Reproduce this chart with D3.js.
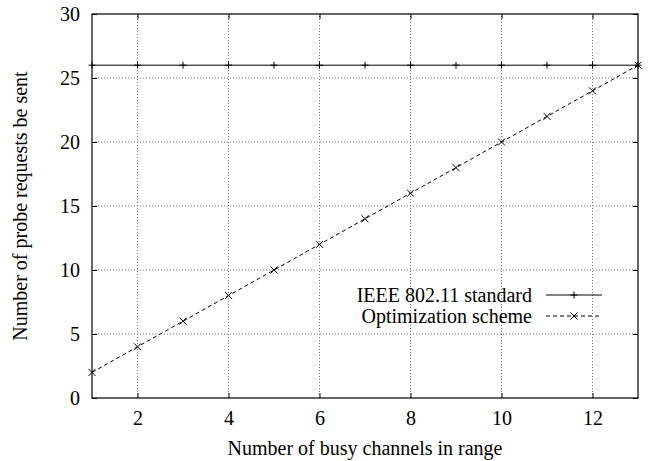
<!DOCTYPE html>
<html>
<head>
<meta charset="utf-8">
<script src="https://cdn.jsdelivr.net/npm/d3@7"></script>
<style>
  body { margin: 0; background: #fff; }
  text { font-family: "Liberation Serif", "Times New Roman", serif; fill: #000; }
</style>
</head>
<body>
<div id="chart"></div>
<script>
// Data
const channels = [1, 2, 3, 4, 5, 6, 7, 8, 9, 10, 11, 12, 13];
const standardProbes = [26, 26, 26, 26, 26, 26, 26, 26, 26, 26, 26, 26, 26];
const optimizedProbes = [2, 4, 6, 8, 10, 12, 14, 16, 18, 20, 22, 24, 26];
const xTicks = [2, 4, 6, 8, 10, 12];
const yTicks = [0, 5, 10, 15, 20, 25, 30];
const seriesNames = ["IEEE 802.11 standard", "Optimization scheme"];

const width = 648, height = 461;
const margin = { top: 14, right: 10, bottom: 63, left: 92 };
const fontSize = "20px";

const svg = d3.select("#chart")
  .append("svg")
  .attr("width", width)
  .attr("height", height);

const x = d3.scaleLinear()
  .domain([1, 13])
  .range([margin.left, width - margin.right]);

const y = d3.scaleLinear()
  .domain([0, 30])
  .range([height - margin.bottom, margin.top]);

// grid
svg.append("g")
  .selectAll("line")
  .data(xTicks)
  .enter()
  .append("line")
  .attr("x1", d => x(d)).attr("x2", d => x(d))
  .attr("y1", y(0)).attr("y2", y(30))
  .attr("stroke", "#777")
  .attr("stroke-width", 1)
  .attr("stroke-dasharray", "1,2");

svg.append("g")
  .selectAll("line")
  .data(yTicks.filter(d => d > 0 && d < 30))
  .enter()
  .append("line")
  .attr("x1", x(1)).attr("x2", x(13))
  .attr("y1", d => y(d)).attr("y2", d => y(d))
  .attr("stroke", "#777")
  .attr("stroke-width", 1)
  .attr("stroke-dasharray", "1,2");

// axes (ticks pointing inward, mirrored)
const tickLen = 5;
svg.append("g")
  .attr("transform", `translate(0,${y(0)})`)
  .call(d3.axisBottom(x).tickValues(xTicks).tickSize(-tickLen).tickPadding(13))
  .call(g => g.select(".domain").remove());

svg.append("g")
  .attr("transform", `translate(0,${y(30)})`)
  .call(d3.axisTop(x).tickValues(xTicks).tickSize(-tickLen).tickFormat(""))
  .call(g => g.select(".domain").remove());

svg.append("g")
  .attr("transform", `translate(${x(1)},0)`)
  .call(d3.axisLeft(y).tickValues(yTicks).tickSize(-tickLen).tickPadding(12))
  .call(g => g.select(".domain").remove());

svg.append("g")
  .attr("transform", `translate(${x(13)},0)`)
  .call(d3.axisRight(y).tickValues(yTicks).tickSize(-tickLen).tickFormat(""))
  .call(g => g.select(".domain").remove());

svg.selectAll(".tick text")
  .style("font-family", "'Liberation Serif', serif")
  .style("font-size", fontSize);
svg.selectAll(".tick line").attr("stroke", "#000");

// frame
svg.append("rect")
  .attr("x", x(1)).attr("y", y(30))
  .attr("width", x(13) - x(1))
  .attr("height", y(0) - y(30))
  .attr("fill", "none")
  .attr("stroke", "#000")
  .attr("stroke-width", 1.2);

// axis labels
svg.append("text")
  .attr("x", (x(1) + x(13)) / 2)
  .attr("y", 455)
  .attr("text-anchor", "middle")
  .style("font-size", fontSize)
  .text("Number of busy channels in range");

svg.append("text")
  .attr("transform", "rotate(-90)")
  .attr("x", -(y(0) + y(30)) / 2)
  .attr("y", 27)
  .attr("text-anchor", "middle")
  .style("font-size", fontSize)
  .text("Number of probe requests be sent");

// lines
const stdData = channels.map((c, i) => ({ x: c, y: standardProbes[i] }));
const optData = channels.map((c, i) => ({ x: c, y: optimizedProbes[i] }));

const line = d3.line()
  .x(d => x(d.x))
  .y(d => y(d.y));

svg.append("path")
  .datum(stdData)
  .attr("d", line)
  .attr("fill", "none")
  .attr("stroke", "#000")
  .attr("stroke-width", 1);

svg.append("path")
  .datum(optData)
  .attr("d", line)
  .attr("fill", "none")
  .attr("stroke", "#000")
  .attr("stroke-width", 1)
  .attr("stroke-dasharray", "4,3");

// markers
const m = 3.5;
svg.append("g")
  .selectAll("path")
  .data(stdData)
  .enter()
  .append("path")
  .attr("d", d => `M${x(d.x) - m},${y(d.y)}h${2 * m}M${x(d.x)},${y(d.y) - m}v${2 * m}`)
  .attr("stroke", "#000")
  .attr("stroke-width", 1);

svg.append("g")
  .selectAll("path")
  .data(optData)
  .enter()
  .append("path")
  .attr("d", d => `M${x(d.x) - m},${y(d.y) - m}l${2 * m},${2 * m}M${x(d.x) - m},${y(d.y) + m}l${2 * m},${-2 * m}`)
  .attr("stroke", "#000")
  .attr("stroke-width", 1);

// legend
const legend = svg.append("g");
seriesNames.forEach((name, i) => {
  const ly = 295 + i * 21;
  legend.append("text")
    .attr("x", 532)
    .attr("y", ly)
    .attr("dy", "0.33em")
    .attr("text-anchor", "end")
    .style("font-size", fontSize)
    .text(name);

  legend.append("line")
    .attr("x1", 546).attr("x2", 602)
    .attr("y1", ly).attr("y2", ly)
    .attr("stroke", "#000")
    .attr("stroke-width", 1)
    .attr("stroke-dasharray", i === 0 ? null : "4,3");

  const cx = 574;
  legend.append("path")
    .attr("d", i === 0
      ? `M${cx - m},${ly}h${2 * m}M${cx},${ly - m}v${2 * m}`
      : `M${cx - m},${ly - m}l${2 * m},${2 * m}M${cx - m},${ly + m}l${2 * m},${-2 * m}`)
    .attr("stroke", "#000")
    .attr("stroke-width", 1);
});
</script>
</body>
</html>
